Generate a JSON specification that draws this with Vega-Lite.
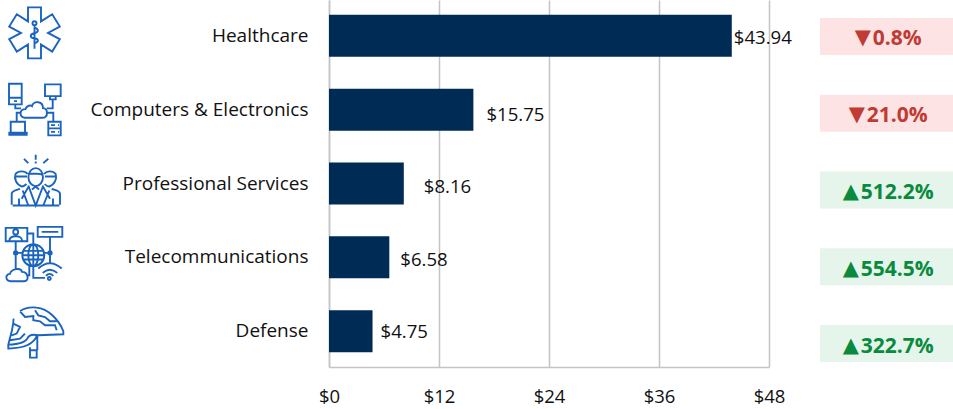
{
"$schema":"https://vega.github.io/schema/vega-lite/v6.json",
"padding":0,
"spacing":0,
"bounds":"flush",
"background":"white",
"config":{"view":{"stroke":null},"font":"Open Sans"},
"resolve":{"scale":{"y":"independent","x":"independent"}},
"data":{"values":[
{"category":"Healthcare","value":43.94,"arrow":"▼","change":"0.8%","direction":"down"},
{"category":"Computers & Electronics","value":15.75,"arrow":"▼","change":"21.0%","direction":"down"},
{"category":"Professional Services","value":8.16,"arrow":"▲","change":"512.2%","direction":"up"},
{"category":"Telecommunications","value":6.58,"arrow":"▲","change":"554.5%","direction":"up"},
{"category":"Defense","value":4.75,"arrow":"▲","change":"322.7%","direction":"up"}
]},
"hconcat":[
{"width":328.7,"height":367,
 "mark":{"type":"point","filled":false,"size":4,"opacity":1,"stroke":"#1a64c0","strokeWidth":1.9},
 "encoding":{
  "x":{"datum":34,"type":"quantitative","scale":{"domain":[0,328.7]},"axis":null},
  "y":{"field":"category","type":"nominal","sort":null,"axis":null,"scale":{"paddingInner":0.431,"paddingOuter":0.2}},
  "shape":{"field":"category","type":"nominal","legend":null,"scale":{
   "domain":["Healthcare","Computers & Electronics","Professional Services","Telecommunications","Defense"],
   "range":[
"M-6 -29.3L7 -29.3L7 -15.3L18.2 -22.5L25.8 -10.1L14 -3.8L25.8 2.5L18.2 14.9L7 7.7L7 21.7L-6 21.7L-6 7.7L-17.2 14.9L-24.8 2.5L-13 -3.8L-24.8 -10.1L-17.2 -22.5L-6 -15.3ZM0.5 -11.5L0.5 12M-1.5 -13.5a2 2 0 1 0 4 0a2 2 0 1 0 -4 0M0.5 -9C5 -8 5 -4.5 0.5 -3.5C-4.5 -2.5 -4.5 1 0.5 1.5C5 2 5 5.5 0.5 6.5",
"M-25 -26.3L-12.3 -26.3L-12.3 -5.7L-25 -5.7ZM-25 -12.3L-12.3 -12.3M-20 -9L-17 -9M11 -25.7L26.7 -25.7L26.7 -14L11 -14ZM16 -14L16 -10.7L21.7 -10.7L21.7 -14M-9 7.7C-15 7.7 -15 -1 -8.5 -1C-7.5 -5 -3 -5 -2 -4C0 -10 9 -9 9 -2C14 -2 15 7.7 8 7.7ZM-18.7 -5.7L-18.7 -1.7L-13 -1.7M18.7 -10.7L18.7 -1.7L12.7 -1.7M-17.3 11.7L-17.3 2.7L-13.3 2.7M19.3 11.7L19.3 2.7L12.7 2.7M-23.3 22.7L-23.3 11.7L-9 11.7L-9 22.7M-24.7 22.7L-7.3 22.7L-7.3 24.7L-24.7 24.7ZM14.3 11.7L26.7 11.7L26.7 25.3L14.3 25.3ZM14.3 18.3L26.7 18.3M17 15L21 15M17 21.8L21 21.8M24 15L25 15M24 21.8L25 21.8",
"M1.7 -28.7L1.7 -23.7M1.7 -22L1.7 -20M-10 -24.7L-5.7 -20.4M14.3 -24.7L9.3 -20.4M-5.6 -6.4a7.3 9 0 1 0 14.6 0a7.3 9 0 1 0 -14.6 0M-4.7 -10C0 -9 6 -11 8.7 -8.5M-6.3 -9.5C-9 -13 -16 -13 -18.5 -9.5C-20 -5 -18 1 -12.3 3C-10.5 3 -9 2 -7.5 0.5M10 -9.5C13 -13 19 -13 21.7 -9.5C23 -5 21 1 15.3 3C13.5 3 12 2 10.7 0.5M-19 -7L-7 -7M11 -7L21.7 -7M-21.3 22L25.3 22M-22.3 21.3L-22.3 10.3C-22.3 7 -17 6.5 -14 5.3M26 21.3L26 10.3C26 7 20.5 6.5 17.7 5.3M-5.7 2L1.7 22L9.3 2M-12.3 15.3L-5.7 3.6M16 15.3L9.3 3.6M-11.3 7L-5.7 22M15.3 7L9.3 22M-15 15L-15 21.5M19 15L19 21.5M-2 6L1.7 3L5 6",
"M-11.7 -1.7a11 11 0 1 0 22 0a11 11 0 1 0 -22 0M-5.7 -1.7a5 11 0 1 0 10 0a5 11 0 1 0 -10 0M-0.7 -12.7L-0.7 9.3M-10.5 -6L9 -6M-10.5 2.6L9 2.6M-11.7 -1.7L10.3 -1.7M-28.3 -29L-6.7 -29L-6.7 -15.7L-28.3 -15.7ZM-20.8 -25a2.5 2.5 0 1 0 5 0a2.5 2.5 0 1 0 -5 0M-24.7 -16.4C-24 -22 -12 -22 -12 -16.4M3.7 -30L28.3 -30L28.3 -20L3.7 -20ZM7.7 -25L24.3 -25M16 -20L16 6.6M-18.3 -15.7L-18.3 11.6M-20 -4a1.7 1.7 0 1 0 3.4 0a1.7 1.7 0 1 0 -3.4 0M14.3 -4a1.7 1.7 0 1 0 3.4 0a1.7 1.7 0 1 0 -3.4 0M-18.3 -4L-11.7 -4M16 -4L10.3 -4M-6.7 -23.4L-0.7 -23.4L-0.7 -12.7M-0.7 9.3L-0.7 21L11 21M-4.7 9L-4.7 18.3L-6.3 18.3M-23 24.3C-29 24.3 -29 17 -24 17C-23 12 -13 10 -12 15C-6 15 -4 24.3 -10 24.3ZM13.8 21.6a1.5 1.5 0 1 0 3 0a1.5 1.5 0 1 0 -3 0M4.3 11.6Q15.7 1 27.7 11.6M8.7 16Q15.7 9.5 23.3 16M12 19Q15.5 15 19.3 19",
"M-14 -19C-8 -23.5 0 -23 2.7 -22.7C14 -22 25 -10 29.3 0.7L29.3 4L4.3 5L3 5C0 14 -12 18 -25.7 18.3L-25.7 14.3L-22 0C-21 -6 -20 -10 -20.7 -11.7M-14 -19L-9 -13.3L-0.7 -14.3L-0.7 -10L6 -9L11 -5L21 -5L22.7 0M1 -20L4.3 -15L11 -13.3L16 -9L22.7 -9M-20.7 -6.7L-14 -3.3L-17.3 3.3L-22.3 5M-9 3.3L-14 8.3L-24 10M-25.7 14.3C-15 14 -8 12 -6 7C-4 4 0 4 4.3 5M3.3 5L3.3 20M-4 17L-4 20M-4 20L2.7 20L2.7 27.3L-4 27.3Z"
   ]}}
 }
},
{"width":440,"height":367,
 "encoding":{
  "y":{"field":"category","type":"nominal","sort":null,"title":null,"scale":{"paddingInner":0.431,"paddingOuter":0.2},
   "axis":{"ticks":false,"grid":false,"domain":true,"domainColor":"#c4c4c4","domainWidth":1.5,"labelPadding":21,"labelFontSize":19,"labelFont":"Open Sans","labelColor":"#111111","labelLimit":300}},
  "x":{"field":"value","type":"quantitative","title":null,"scale":{"domain":[0,48],"nice":false},
   "axis":{"values":[0,12,24,36,48],"format":"$d","ticks":false,"grid":true,"gridColor":"#c4c4c4","gridWidth":1.5,"domain":true,"domainColor":"#c4c4c4","domainWidth":1.5,"labelPadding":20,"labelFontSize":18.5,"labelFont":"Open Sans","labelColor":"#111111","labelFlush":false}}
 },
 "layer":[
  {"mark":{"type":"bar","color":"#002b54"}},
  {"transform":[{"filter":"datum.value==43.94"}],"mark":{"type":"text","align":"left","dx":2,"dy":2,"fontSize":18.6,"color":"#111111"},"encoding":{"text":{"field":"value","format":"$.2f"}}},
  {"transform":[{"filter":"datum.value==15.75"}],"mark":{"type":"text","align":"left","dx":13,"dy":5,"fontSize":18.6,"color":"#111111"},"encoding":{"text":{"field":"value","format":"$.2f"}}},
  {"transform":[{"filter":"datum.value==8.16"}],"mark":{"type":"text","align":"left","dx":20,"dy":3,"fontSize":18.6,"color":"#111111"},"encoding":{"text":{"field":"value","format":"$.2f"}}},
  {"transform":[{"filter":"datum.value==6.58"}],"mark":{"type":"text","align":"left","dx":11,"dy":3,"fontSize":18.6,"color":"#111111"},"encoding":{"text":{"field":"value","format":"$.2f"}}},
  {"transform":[{"filter":"datum.value==4.75"}],"mark":{"type":"text","align":"left","dx":8,"dy":1,"fontSize":18.6,"color":"#111111"},"encoding":{"text":{"field":"value","format":"$.2f"}}}
 ]
},
{"width":184.3,"height":380,
 "encoding":{
  "y":{"field":"category","type":"nominal","sort":null,"axis":null,"scale":{"paddingInner":0.518,"paddingOuter":0.2345}},
  "color":{"field":"direction","type":"nominal","legend":null,"scale":{"domain":["down","up"],"range":["#bf3b34","#0a8a3c"]}}
 },
 "layer":[
  {"mark":{"type":"bar"},
   "encoding":{
    "x":{"datum":51,"type":"quantitative","scale":{"domain":[0,184.3],"nice":false},"axis":null},
    "x2":{"datum":184.3},
    "color":{"field":"direction","type":"nominal","legend":null,"scale":{"domain":["down","up"],"range":["#fde3e3","#e5f5ec"]}}
   }},
  {"mark":{"type":"text","fontSize":21,"fontWeight":"bold","dy":3},
   "encoding":{
    "x":{"datum":128.3,"type":"quantitative","scale":{"domain":[0,184.3],"nice":false}},
    "text":{"field":"change"}
   }},
  {"transform":[{"filter":"datum.change=='0.8%'"}],"mark":{"type":"text","font":"DejaVu Sans","fontSize":21,"align":"right","dy":2},
   "encoding":{"x":{"datum":102,"type":"quantitative","scale":{"domain":[0,184.3],"nice":false}},"text":{"field":"arrow"}}},
  {"transform":[{"filter":"datum.change=='21.0%'"}],"mark":{"type":"text","font":"DejaVu Sans","fontSize":21,"align":"right","dy":2},
   "encoding":{"x":{"datum":96,"type":"quantitative","scale":{"domain":[0,184.3],"nice":false}},"text":{"field":"arrow"}}},
  {"transform":[{"filter":"datum.direction=='up'"}],"mark":{"type":"text","font":"DejaVu Sans","fontSize":21,"align":"right","dy":2},
   "encoding":{"x":{"datum":90,"type":"quantitative","scale":{"domain":[0,184.3],"nice":false}},"text":{"field":"arrow"}}}
 ],
 "resolve":{"scale":{"color":"independent"}}
}
]
}
